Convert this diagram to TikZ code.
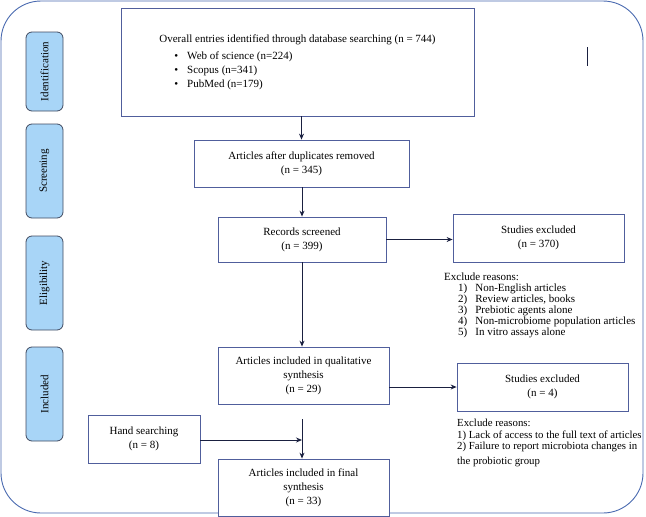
\documentclass[tikz,border=0pt]{standalone}
\usepackage{fontspec}
\setmainfont{Liberation Serif}
\usetikzlibrary{arrows.meta,positioning}
\definecolor{framecol}{RGB}{74,106,176}
\definecolor{boxcol}{RGB}{80,94,156}
\definecolor{linecol}{RGB}{26,32,64}
\definecolor{tabfill}{RGB}{168,213,247}
\definecolor{tabline}{RGB}{64,74,96}

\begin{document}
\begin{tikzpicture}[
  x=1pt, y=1pt, >={Stealth[length=6pt,width=5pt]},
  box/.style={draw=boxcol, line width=0.8pt, fill=white, align=center, inner sep=2pt,
    font=\fontsize{11}{14}\selectfont},
  tab/.style={draw=tabline, line width=0.8pt, fill=tabfill, rounded corners=6pt, rotate=90,
    minimum height=37pt, inner sep=0pt, font=\fontsize{11}{12}\selectfont},
  note/.style={align=left, anchor=north west, inner sep=0pt, font=\fontsize{11}{11}\selectfont},
  e/.style={->, line width=0.9pt, linecol},
]
\useasboundingbox (0,0) rectangle (646,-517);
% outer frame
\draw[framecol, line width=0.9pt, rounded corners=40pt] (1,-1) rectangle (643,-513);
\draw[linecol, line width=0.8pt] (587,-47) -- (587,-66);

% stage tabs
\node[tab, minimum width=79pt] (tid) at (44.5,-71.5) {Identification};
\node[tab, minimum width=94pt] (tsc) at (44.5,-171) {Screening};
\node[tab, minimum width=94pt] (tel) at (44.5,-283) {Eligibility};
\node[tab, minimum width=94pt] (tin) at (44.5,-394) {Included};

% flow boxes
\node[box, minimum width=353pt, minimum height=108pt] (ident) at (297.5,-62)
  {\begin{tabular}{@{}l@{}}
   Overall entries identified through database searching (n = 744)\\[3pt]
   \hspace{15pt}\textbullet\hspace{9pt}Web of science (n=224)\\[0pt]
   \hspace{15pt}\textbullet\hspace{9pt}Scopus (n=341)\\[0pt]
   \hspace{15pt}\textbullet\hspace{9pt}PubMed (n=179)
   \end{tabular}};
\node[box, minimum width=215pt, minimum height=47pt] (dup) at (301.5,-163.5)
  {Articles after duplicates removed\\(n = 345)};
\node[box, minimum width=168pt, minimum height=45pt] (scr) at (302,-239.5)
  {Records screened\\(n = 399)};
\node[box, minimum width=171pt, minimum height=48pt] (exa) at (538.5,-238)
  {Studies excluded\\(n = 370)};
\node[note] (nta) at (444,-272.5)
  {Exclude reasons:\\
   \hspace{14pt}1)\hspace{8pt}Non-English articles\\
   \hspace{14pt}2)\hspace{8pt}Review articles, books\\
   \hspace{14pt}3)\hspace{8pt}Prebiotic agents alone\\
   \hspace{14pt}4)\hspace{8pt}Non-microbiome population articles\\
   \hspace{14pt}5)\hspace{8pt}In vitro assays alone};
\node[box, minimum width=171pt, minimum height=57pt] (qual) at (303.5,-375.5)
  {Articles included in qualitative\\synthesis\\(n = 29)};
\node[box, minimum width=171pt, minimum height=48pt] (exb) at (542.5,-387)
  {Studies excluded\\(n = 4)};
\node[note, font=\fontsize{10.8}{11.5}\selectfont] (ntb) at (457,-419)
  {Exclude reasons:\\
   1) Lack of access to the full text of articles\\
   2) Failure to report microbiota changes in\\[3pt]
   the probiotic group};
\node[box, minimum width=112pt, minimum height=48pt] (hand) at (144,-439)
  {Hand searching\\(n = 8)};
\node[box, minimum width=171pt, minimum height=57pt] (final) at (303.5,-487.5)
  {Articles included in final\\synthesis\\(n = 33)};

% connectors
\coordinate (jt) at (302,-419);
\coordinate (jm) at (302,-440);
\draw[e] (ident.south -| dup) -- (dup.north);
\draw[e] (dup.south -| scr) -- (scr.north);
\draw[e] (scr.east) -- (scr.east -| exa.west);
\draw[e] (scr.south) -- (qual.north -| scr);
\draw[e] (qual.east |- exb) -- (exb.west);
\draw[e] (jt) -- (final.north -| jt);
\draw[e] (hand.east |- jm) -- (jm);
\end{tikzpicture}
\end{document}
